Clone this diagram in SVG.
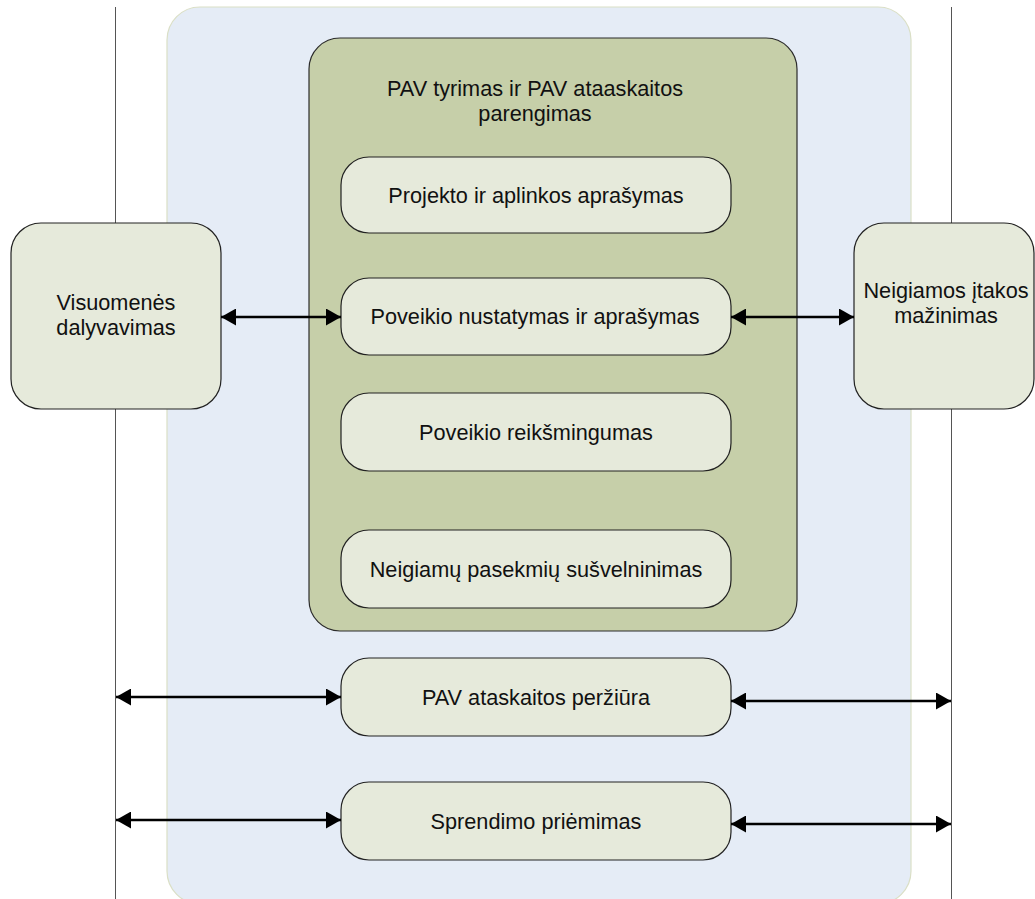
<svg xmlns="http://www.w3.org/2000/svg" width="1035" height="899" viewBox="0 0 1035 899">
<style>
  .lane { stroke: #555555; stroke-width: 1; fill: none; }
  .bg { fill: #e5ecf6; stroke: #dadfc6; stroke-width: 1.2; }
  .group { fill: #c6cfa9; stroke: #2b2b2b; stroke-width: 1.2; }
  .box { fill: #e6eadb; stroke: #222222; stroke-width: 1.2; }
  .lbl { font-family: "Liberation Sans", Arial, sans-serif; font-size: 21.7px; fill: #111111; text-anchor: middle; }
  .conn { stroke: #000000; stroke-width: 2.6; fill: none; marker-start: url(#ah); marker-end: url(#ah); }
</style>
<defs>
  <marker id="ah" viewBox="0 0 15 17" refX="15" refY="8.5" markerWidth="15" markerHeight="17" markerUnits="userSpaceOnUse" orient="auto-start-reverse">
    <path d="M0,0 L15,8.5 L0,17 z" fill="#000000"/>
  </marker>
</defs>
<rect width="1035" height="899" fill="#ffffff"/>
<g id="lanes">
  <line class="lane" x1="115.5" y1="7" x2="115.5" y2="899"/>
  <line class="lane" x1="951.5" y1="7" x2="951.5" y2="899"/>
</g>
<g id="background">
  <rect class="bg" x="167" y="7" width="744" height="897" rx="33" ry="33"/>
</g>
<g id="pav-tyrimas">
  <rect class="group" x="309" y="38" width="488" height="593" rx="31" ry="31"/>
  <text class="lbl" x="535" y="96">PAV tyrimas ir PAV ataaskaitos</text>
  <text class="lbl" x="535" y="121">parengimas</text>
</g>
<g id="projekto">
  <rect class="box" x="341" y="157" width="390" height="76" rx="28" ry="28"/>
  <text class="lbl" x="536" y="203">Projekto ir aplinkos aprašymas</text>
</g>
<g id="poveikio-nustatymas">
  <rect class="box" x="341" y="278" width="390" height="77" rx="28" ry="28"/>
  <text class="lbl" x="535" y="324">Poveikio nustatymas ir aprašymas</text>
</g>
<g id="poveikio-reiksmingumas">
  <rect class="box" x="341" y="393" width="390" height="78" rx="28" ry="28"/>
  <text class="lbl" x="536" y="440">Poveikio reikšmingumas</text>
</g>
<g id="neigiamu-pasekmiu">
  <rect class="box" x="341" y="530" width="390" height="78" rx="28" ry="28"/>
  <text class="lbl" x="536" y="577">Neigiamų pasekmių sušvelninimas</text>
</g>
<g id="perziura">
  <rect class="box" x="341" y="658" width="390" height="78" rx="28" ry="28"/>
  <text class="lbl" x="536" y="705">PAV ataskaitos peržiūra</text>
</g>
<g id="sprendimo">
  <rect class="box" x="341" y="782" width="390" height="78" rx="28" ry="28"/>
  <text class="lbl" x="536" y="829">Sprendimo priėmimas</text>
</g>
<g id="visuomenes">
  <rect class="box" x="11" y="223" width="210" height="186" rx="30" ry="30"/>
  <text class="lbl" x="116" y="310">Visuomenės</text>
  <text class="lbl" x="116" y="335">dalyvavimas</text>
</g>
<g id="neigiamos">
  <rect class="box" x="854" y="223" width="180" height="186" rx="30" ry="30"/>
  <text class="lbl" x="946" y="298">Neigiamos įtakos</text>
  <text class="lbl" x="946" y="323">mažinimas</text>
</g>
<g id="connectors">
  <line class="conn" x1="221" y1="317" x2="341" y2="317"/>
  <line class="conn" x1="731" y1="317" x2="854" y2="317"/>
  <line class="conn" x1="116" y1="697" x2="341" y2="697"/>
  <line class="conn" x1="731" y1="701" x2="951" y2="701"/>
  <line class="conn" x1="116" y1="820" x2="341" y2="820"/>
  <line class="conn" x1="731" y1="824" x2="951" y2="824"/>
</g>
</svg>
